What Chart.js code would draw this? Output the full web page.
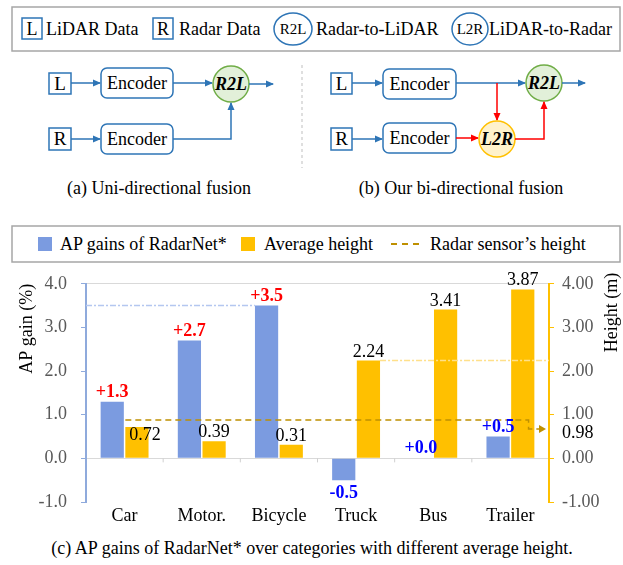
<!DOCTYPE html>
<html>
<head>
<meta charset="utf-8">
<script src="https://cdn.jsdelivr.net/npm/chart.js@4.4.1/dist/chart.umd.min.js"></script>
<style>
  body { margin: 0; background: #fff; }
  #page { position: relative; width: 623px; height: 565px; overflow: hidden; background: #fff; }
  #page svg { position: absolute; left: 0; top: 0; }
  #myChart { position: absolute; left: 0; top: 259px; }
  text { font-family: 'Liberation Serif', 'Times New Roman', serif; }
</style>
</head>
<body>
<div id="page">
<svg width="623" height="565">
  <defs>
    <marker id="blueHead" markerWidth="8" markerHeight="8" refX="7" refY="4" orient="auto" markerUnits="userSpaceOnUse">
      <path d="M0,0.5 L8,4 L0,7.5 z" fill="#2E75B6"/>
    </marker>
    <marker id="redHead" markerWidth="8" markerHeight="8" refX="7" refY="4" orient="auto" markerUnits="userSpaceOnUse">
      <path d="M0,0.5 L8,4 L0,7.5 z" fill="#FF0000"/>
    </marker>
  </defs>

  <!-- top legend -->
  <rect x="12" y="7" width="608" height="44" fill="#fff" stroke="#A6A6A6" stroke-width="1.5"/>
  <rect x="22" y="18" width="20" height="21" fill="none" stroke="#2E75B6" stroke-width="1.5"/>
  <text x="32" y="35" font-size="18" text-anchor="middle">L</text>
  <text x="46" y="35" font-size="18">LiDAR Data</text>
  <rect x="153" y="18" width="20" height="21" fill="none" stroke="#2E75B6" stroke-width="1.5"/>
  <text x="163" y="35" font-size="18" text-anchor="middle">R</text>
  <text x="179" y="35" font-size="18">Radar Data</text>
  <ellipse cx="293" cy="29" rx="19" ry="16" fill="none" stroke="#2E75B6" stroke-width="1.5"/>
  <text x="293" y="34" font-size="15" text-anchor="middle">R2L</text>
  <text x="316" y="35" font-size="18">Radar-to-LiDAR</text>
  <ellipse cx="470" cy="29" rx="18" ry="16" fill="none" stroke="#2E75B6" stroke-width="1.5"/>
  <text x="470" y="34" font-size="15" text-anchor="middle">L2R</text>
  <text x="489" y="35" font-size="18">LiDAR-to-Radar</text>

  <!-- (a) uni-directional -->
  <rect x="49" y="73" width="22" height="21" fill="#fff" stroke="#2E75B6" stroke-width="1.5"/>
  <text x="60" y="90" font-size="19" text-anchor="middle">L</text>
  <line x1="71" y1="83" x2="100" y2="83" stroke="#2E75B6" stroke-width="1.5" marker-end="url(#blueHead)"/>
  <rect x="101" y="68" width="72" height="30" rx="6" fill="#fff" stroke="#2E75B6" stroke-width="1.5"/>
  <text x="137" y="89" font-size="18" text-anchor="middle">Encoder</text>
  <line x1="173" y1="83" x2="212" y2="83" stroke="#2E75B6" stroke-width="1.5" marker-end="url(#blueHead)"/>
  <circle cx="231" cy="84" r="18" fill="#E2F0D9" stroke="#70AD47" stroke-width="1.5"/>
  <text x="231" y="90" font-size="18" font-weight="bold" font-style="italic" text-anchor="middle">R2L</text>
  <line x1="249" y1="84" x2="273" y2="84" stroke="#2E75B6" stroke-width="1.5" marker-end="url(#blueHead)"/>
  <rect x="49" y="128" width="22" height="22" fill="#fff" stroke="#2E75B6" stroke-width="1.5"/>
  <text x="60" y="145" font-size="19" text-anchor="middle">R</text>
  <line x1="71" y1="139" x2="100" y2="139" stroke="#2E75B6" stroke-width="1.5" marker-end="url(#blueHead)"/>
  <rect x="101" y="124" width="72" height="30" rx="6" fill="#fff" stroke="#2E75B6" stroke-width="1.5"/>
  <text x="137" y="145" font-size="18" text-anchor="middle">Encoder</text>
  <polyline points="173,139 231,139 231,103" fill="none" stroke="#2E75B6" stroke-width="1.5" marker-end="url(#blueHead)"/>
  <text x="159" y="194" font-size="18" text-anchor="middle">(a) Uni-directional fusion</text>

  <line x1="302" y1="65" x2="302" y2="168" stroke="#BFBFBF" stroke-width="1" stroke-dasharray="3,3"/>

  <!-- (b) bi-directional -->
  <rect x="331" y="73" width="21" height="21" fill="#fff" stroke="#2E75B6" stroke-width="1.5"/>
  <text x="341.5" y="90" font-size="19" text-anchor="middle">L</text>
  <line x1="352" y1="83" x2="382" y2="83" stroke="#2E75B6" stroke-width="1.5" marker-end="url(#blueHead)"/>
  <rect x="383" y="69" width="73" height="30" rx="6" fill="#fff" stroke="#2E75B6" stroke-width="1.5"/>
  <text x="419.5" y="90" font-size="18" text-anchor="middle">Encoder</text>
  <line x1="456" y1="83" x2="525" y2="83" stroke="#2E75B6" stroke-width="1.5" marker-end="url(#blueHead)"/>
  <circle cx="544" cy="83" r="18" fill="#E2F0D9" stroke="#70AD47" stroke-width="1.5"/>
  <text x="544" y="89" font-size="18" font-weight="bold" font-style="italic" text-anchor="middle">R2L</text>
  <line x1="562" y1="83" x2="585" y2="83" stroke="#2E75B6" stroke-width="1.5" marker-end="url(#blueHead)"/>
  <line x1="497" y1="83" x2="497" y2="120" stroke="#FF0000" stroke-width="1.5" marker-end="url(#redHead)"/>
  <rect x="331" y="128" width="21" height="22" fill="#fff" stroke="#2E75B6" stroke-width="1.5"/>
  <text x="341.5" y="145" font-size="19" text-anchor="middle">R</text>
  <line x1="352" y1="139" x2="382" y2="139" stroke="#2E75B6" stroke-width="1.5" marker-end="url(#blueHead)"/>
  <rect x="383" y="123" width="73" height="30" rx="6" fill="#fff" stroke="#2E75B6" stroke-width="1.5"/>
  <text x="419.5" y="144" font-size="18" text-anchor="middle">Encoder</text>
  <line x1="456" y1="138" x2="478" y2="138" stroke="#FF0000" stroke-width="1.5" marker-end="url(#redHead)"/>
  <circle cx="497" cy="139" r="18" fill="#FFF2CC" stroke="#FFC000" stroke-width="1.5"/>
  <text x="497" y="145" font-size="18" font-weight="bold" font-style="italic" text-anchor="middle">L2R</text>
  <polyline points="515,139 544,139 544,102" fill="none" stroke="#FF0000" stroke-width="1.5" marker-end="url(#redHead)"/>
  <text x="461" y="194" font-size="18" text-anchor="middle">(b) Our bi-directional fusion</text>

  <!-- chart legend -->
  <rect x="12" y="226" width="608" height="36" fill="#fff" stroke="#A6A6A6" stroke-width="1.5"/>
  <rect x="38" y="237" width="14" height="14" fill="#7B9BE0"/>
  <text x="60" y="250" font-size="18">AP gains of RadarNet*</text>
  <rect x="241" y="237" width="14" height="14" fill="#FFC000"/>
  <text x="264" y="250" font-size="18">Average height</text>
  <line x1="391" y1="244" x2="421" y2="244" stroke="#BF9000" stroke-width="2" stroke-dasharray="6,5"/>
  <text x="430" y="250" font-size="18">Radar sensor’s height</text>

  <text x="312" y="554" font-size="18" text-anchor="middle">(c) AP gains of RadarNet* over categories with different average height.</text>
</svg>
<canvas id="myChart" width="623" height="277"></canvas>
</div>

<script>
// Chart data
var categories = ['Car', 'Motor.', 'Bicycle', 'Truck', 'Bus', 'Trailer'];
var apGains = [1.3, 2.7, 3.5, -0.5, 0.0, 0.5];
var avgHeights = [0.72, 0.39, 0.31, 2.24, 3.41, 3.87];
var radarLevel = [0.88];    // height where the dashed line is drawn
var radarLabel = ['0.98'];  // text printed next to the arrow
var axisRange = [-1, 4];

var serif = "'Liberation Serif', 'Times New Roman', serif";

// Function to draw the extra marks Excel put on the chart
var extras = {
  id: 'extras',
  afterDatasetsDraw: function(chart) {
    var ctx = chart.ctx;
    var area = chart.chartArea;
    var x = chart.scales.x;
    var y = chart.scales.y;
    var y1 = chart.scales.y1;
    var gainBars = chart.getDatasetMeta(0).data;
    var heightBars = chart.getDatasetMeta(1).data;
    var zeroY = y.getPixelForValue(0);

    function line(ax, ay, bx, by) {
      ctx.beginPath();
      ctx.moveTo(ax, ay);
      ctx.lineTo(bx, by);
      ctx.stroke();
    }

    ctx.save();

    // small ticks under the zero line between categories
    ctx.strokeStyle = '#D0D0D0';
    ctx.lineWidth = 1;
    for (var i = 1; i < categories.length; i++) {
      var bx = (x.getPixelForValue(i - 1) + x.getPixelForValue(i)) / 2;
      line(bx, zeroY, bx, zeroY + 4);
    }

    // dash-dot guide from the left axis to the tallest gain
    var best = apGains.indexOf(Math.max.apply(null, apGains));
    var b = gainBars[best];
    ctx.setLineDash([6, 2, 2, 2]);
    ctx.strokeStyle = '#B4C7F0';
    ctx.lineWidth = 1.5;
    line(area.left, b.y, b.x - b.width / 2, b.y);

    // dash-dot guide from the truck height to the right axis
    var t = heightBars[categories.indexOf('Truck')];
    ctx.strokeStyle = '#FFE08A';
    line(t.x + t.width / 2, t.y, area.right, t.y);

    // radar sensor height line with leader arrow
    var ry = y1.getPixelForValue(radarLevel[0]);
    var first = heightBars[0];
    var last = heightBars[heightBars.length - 1];
    var x0 = first.x - first.width / 2;
    var x1 = last.x + last.width / 4;
    var ry2 = ry + 9;
    var tip = area.right - 3;
    ctx.setLineDash([6, 4]);
    ctx.strokeStyle = '#BF9000';
    ctx.lineWidth = 1.5;
    ctx.beginPath();
    ctx.moveTo(x0, ry);
    ctx.lineTo(x1, ry);
    ctx.lineTo(x1, ry2);
    ctx.lineTo(tip - 6, ry2);
    ctx.stroke();
    ctx.setLineDash([]);
    ctx.fillStyle = '#BF9000';
    ctx.beginPath();
    ctx.moveTo(tip, ry2);
    ctx.lineTo(tip - 7, ry2 - 4);
    ctx.lineTo(tip - 7, ry2 + 4);
    ctx.closePath();
    ctx.fill();

    ctx.fillStyle = '#000';
    ctx.font = '18px ' + serif;
    ctx.textAlign = 'left';
    ctx.textBaseline = 'middle';
    ctx.fillText(radarLabel[0], y1.left + 13, ry2 + 4);

    // gain labels
    ctx.textAlign = 'center';
    ctx.font = 'bold 18px ' + serif;
    gainBars.forEach(function(bar, i) {
      var v = apGains[i];
      var txt = (v < 0 ? '' : '+') + v.toFixed(1);
      ctx.fillStyle = v >= 1 ? '#FF0000' : '#0000FF';
      if (v < 0) {
        ctx.textBaseline = 'top';
        ctx.fillText(txt, bar.x, bar.y + 4);
      } else {
        ctx.textBaseline = 'alphabetic';
        ctx.fillText(txt, bar.x, bar.y - 5);
      }
    });

    // height labels
    ctx.font = '18px ' + serif;
    ctx.fillStyle = '#000';
    heightBars.forEach(function(bar, i) {
      var txt = avgHeights[i].toFixed(2);
      if (bar.y > ry && bar.y - ry < 12) {
        // top sits just under the radar line, so the label moves down
        ctx.textBaseline = 'middle';
        ctx.fillText(txt, bar.x + 8, bar.y + 8);
      } else {
        ctx.textBaseline = 'alphabetic';
        ctx.fillText(txt, bar.x, bar.y - 4);
      }
    });

    // axis titles, both reading upwards
    ctx.textAlign = 'right';
    ctx.textBaseline = 'middle';
    ctx.save();
    ctx.translate(27, area.top);
    ctx.rotate(-Math.PI / 2);
    ctx.fillText('AP gain (%)', 0, 0);
    ctx.restore();
    ctx.save();
    ctx.translate(612, area.top - 11);
    ctx.rotate(-Math.PI / 2);
    ctx.fillText('Height (m)', 0, 0);
    ctx.restore();

    ctx.restore();
  }
};

// Initialize the chart
var ctx = document.getElementById('myChart').getContext('2d');
var myChart = new Chart(ctx, {
  type: 'bar',
  data: {
    labels: categories,
    datasets: [{
      label: 'AP gains of RadarNet*',
      data: apGains,
      backgroundColor: '#7B9BE0',
      yAxisID: 'y',
      barPercentage: 0.94,
      categoryPercentage: 0.64
    }, {
      label: 'Average height',
      data: avgHeights,
      backgroundColor: '#FFC000',
      yAxisID: 'y1',
      barPercentage: 0.94,
      categoryPercentage: 0.64
    }]
  },
  options: {
    responsive: false,
    animation: false,
    devicePixelRatio: 1,
    layout: { padding: { top: 18, left: 0, right: 0, bottom: 0 } },
    plugins: {
      legend: { display: false },
      tooltip: { enabled: false }
    },
    scales: {
      x: {
        grid: { display: false, drawTicks: false },
        border: { display: false },
        ticks: { color: '#000', font: { family: serif, size: 18 }, padding: 3 },
        afterFit: function(scale) { scale.height = 34; }
      },
      y: {
        position: 'left',
        min: axisRange[0],
        max: axisRange[1],
        ticks: {
          stepSize: 1,
          color: '#595959',
          font: { family: serif, size: 18 },
          padding: 14,
          callback: function(v) { return v.toFixed(1); }
        },
        grid: {
          color: function(c) {
            return (c.tick && (c.tick.value === 0 || c.tick.value === axisRange[1])) ? '#D9D9D9' : 'rgba(0,0,0,0)';
          },
          tickColor: '#8FAADC',
          tickLength: 5
        },
        border: { color: '#8FAADC', width: 2 },
        afterFit: function(scale) { scale.width = 86; }
      },
      y1: {
        position: 'right',
        min: axisRange[0],
        max: axisRange[1],
        ticks: {
          stepSize: 1,
          color: '#595959',
          font: { family: serif, size: 18 },
          padding: 8,
          callback: function(v) { return v.toFixed(2); }
        },
        grid: { drawOnChartArea: false, tickColor: '#FFC000', tickLength: 5 },
        border: { color: '#FFC000', width: 2 },
        afterFit: function(scale) { scale.width = 74; }
      }
    }
  },
  plugins: [extras]
});
</script>
</body>
</html>
